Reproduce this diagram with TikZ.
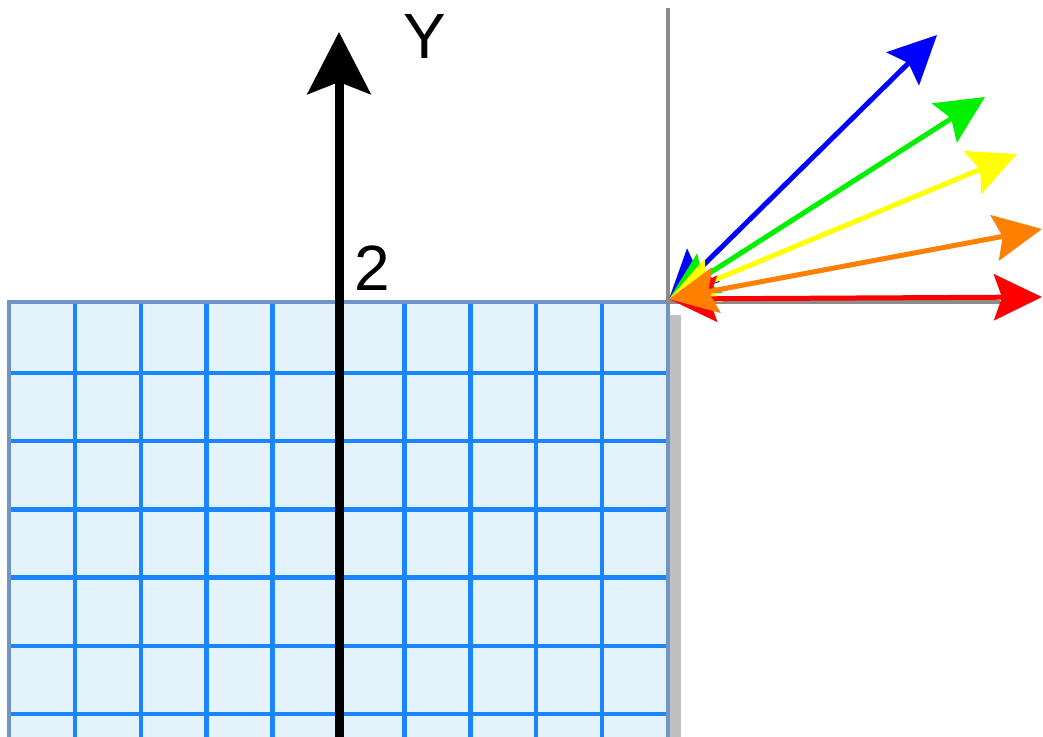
\documentclass[tikz,border=0pt]{standalone}
\usepackage{fontspec}
\setmainfont{Liberation Sans}
\usetikzlibrary{arrows.meta}
\definecolor{cellfill}{HTML}{E4F2FC}
\definecolor{cellline}{HTML}{1A85FF}
\definecolor{gridedge}{HTML}{7094C8}
\definecolor{shadowgray}{HTML}{C0C0C0}
\definecolor{axisgray}{HTML}{8C8C8C}
\definecolor{vblue}{HTML}{0000FF}
\definecolor{vgreen}{HTML}{00F000}
\definecolor{vyellow}{HTML}{FFFF00}
\definecolor{vorange}{HTML}{FF8000}
\definecolor{vred}{HTML}{FF0000}

\begin{document}
\begin{tikzpicture}[
    x=1pt, y=-1pt,
    cellrule/.style={cellline, line width=4.5pt},
    edge/.style={gridedge, line width=4.5pt},
    vec/.style={line width=5pt, {Stealth[length=48pt, width=46pt, inset=8pt]}-{Stealth[length=48pt, width=46pt, inset=8pt]}},
    axis/.style={line width=9pt, -{Stealth[length=62pt, width=63pt, inset=12pt]}},
    lbl/.style={font=\fontsize{64}{70}\selectfont, inner sep=0pt}
]
\useasboundingbox (0,0) rectangle (1043,736);

% Grid with shadow
\fill[shadowgray] (670,315) rectangle (681,740);
\fill[cellfill] (9,302) rectangle (668,740);
\foreach \i in {1,...,9}
    \draw[cellrule] (9+65.9*\i,302) -- (9+65.9*\i,740);
\foreach \j in {0,...,5}
    \draw[cellrule] (9,373+68.2*\j) -- (668,373+68.2*\j);
\draw[edge] (9,740) -- (9,302) -- (668,302) -- (668,740);

% Gray frame lines
\coordinate (O) at (669,299);
\draw[axisgray, line width=4pt] (668,8) -- (668,302) -- (1000,302);

% Y axis
\coordinate (ybase) at (339,740);
\coordinate (ytip) at (339,32);
\draw[axis] (ybase) -- (ytip);
\node[lbl] (ylabel) at (425,36) {Y};
\node[lbl] (twolabel) at (372,268) {2};

% Vectors
\coordinate (bluetip) at (937,35);
\coordinate (greentip) at (985,97);
\coordinate (yellowtip) at (1017,154);
\coordinate (redtip) at (1042,297);
\coordinate (orangetip) at (1042,229);
\draw[vec, vblue] (O) -- (bluetip);
\draw[vec, vgreen] (O) -- (greentip);
\draw[vec, vyellow] (O) -- (yellowtip);
\draw[vec, vred] (O) -- (redtip);
\draw[vec, vorange] (O) -- (orangetip);

\end{tikzpicture}
\end{document}
